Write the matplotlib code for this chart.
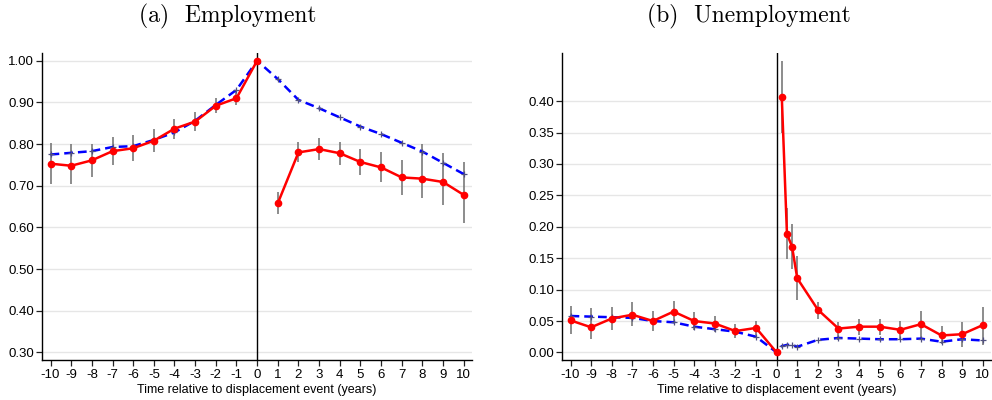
import numpy as np
import matplotlib
matplotlib.use("Agg")
from matplotlib import pyplot as plt

# --- dane (a) zatrudnienie ---
yrs = list(range(-10, 11))
emp_red = [0.753, 0.748, 0.761, 0.783, 0.790, 0.808, 0.837, 0.854, 0.892, 0.910, 1.000,
           0.658, 0.780, 0.788, 0.778, 0.757, 0.744, 0.720, 0.717, 0.709, 0.678]
emp_red_lo = [0.704, 0.704, 0.722, 0.750, 0.760, 0.780, 0.812, 0.832, 0.874, 0.894, 1.000,
              0.632, 0.756, 0.763, 0.750, 0.726, 0.710, 0.679, 0.670, 0.654, 0.610]
emp_red_hi = [0.802, 0.799, 0.800, 0.816, 0.821, 0.835, 0.861, 0.877, 0.910, 0.930, 1.000,
              0.684, 0.804, 0.814, 0.806, 0.789, 0.780, 0.762, 0.799, 0.778, 0.756]
emp_blue = [0.775, 0.779, 0.783, 0.793, 0.795, 0.810, 0.828, 0.856, 0.894, 0.930, 1.000,
            0.956, 0.906, 0.886, 0.864, 0.842, 0.824, 0.803, 0.782, 0.755, 0.728]

# --- dane (b) bezrobocie (kwartaly po zdarzeniu) ---
t_un = [-10, -9, -8, -7, -6, -5, -4, -3, -2, -1, 0, 0.25, 0.5, 0.75, 1,
        2, 3, 4, 5, 6, 7, 8, 9, 10]
un_red = [0.051, 0.040, 0.054, 0.060, 0.050, 0.065, 0.050, 0.046, 0.034, 0.039, 0.0,
          0.407, 0.189, 0.168, 0.118, 0.068, 0.038, 0.041, 0.041, 0.036, 0.045, 0.027, 0.029, 0.0435]
un_red_lo = [0.029, 0.022, 0.035, 0.042, 0.034, 0.047, 0.035, 0.032, 0.023, 0.028, 0.0,
             0.349, 0.148, 0.133, 0.083, 0.054, 0.020, 0.027, 0.027, 0.020, 0.020, 0.014, 0.009, 0.012]
un_red_hi = [0.074, 0.071, 0.073, 0.080, 0.066, 0.082, 0.064, 0.058, 0.046, 0.050, 0.0,
             0.464, 0.230, 0.204, 0.153, 0.081, 0.049, 0.054, 0.054, 0.050, 0.066, 0.042, 0.048, 0.073]
un_blue = [0.058, 0.057, 0.056, 0.055, 0.050, 0.048, 0.041, 0.037, 0.033, 0.025, 0.0,
           0.010, 0.012, 0.012, 0.009, 0.020, 0.023, 0.022, 0.021, 0.021, 0.022, 0.017, 0.021, 0.019]

x_ticks = list(range(-10, 11))
xlab = "Time relative to displacement event (years)"

plt.rcParams['font.family'] = ['Liberation Sans', 'DejaVu Sans']
plt.rcParams['axes.unicode_minus'] = False

fig = plt.figure(figsize=(9.92, 4.0), dpi=100)
ax1 = fig.add_axes([0.0426, 0.099, 0.4332, 0.769])
ax2 = fig.add_axes([0.5668, 0.099, 0.4322, 0.769])


def panel(ax, x, r, lo, hi, b, ylim, yticks):
    x = np.asarray(x, dtype=float)
    r = np.asarray(r, dtype=float)
    # czerwona linia przerwana zaraz po zdarzeniu (t=0)
    k = int(np.where(x == 0)[0][0]) + 1
    xr = np.concatenate([x[:k], [np.nan], x[k:]])
    yr = np.concatenate([r[:k], [np.nan], r[k:]])

    for yt in yticks:
        ax.axhline(yt, color='#e6e6e6', lw=1.0, zorder=0)
    ax.axvline(0, color='black', lw=1.0, zorder=1)
    ax.vlines(x, lo, hi, color='#6e6e6e', lw=1.1, zorder=2)
    ax.plot(x, b, color='#0000ff', lw=1.8, ls=(0, (3.5, 2.0)),
            marker='+', ms=4, mec='#505080', mew=0.9, zorder=3)
    ax.plot(xr, yr, color='#ff0000', lw=1.8, marker='o', ms=4.5,
            mec='#ff0000', mfc='#ff0000', zorder=4)
    ax.set_xlim(-10.4, 10.4)
    ax.set_ylim(*ylim)
    ax.set_xticks(x_ticks)
    ax.set_yticks(yticks)
    ax.set_yticklabels([f"{v:.2f}" for v in yticks])
    ax.set_xlabel(xlab, fontsize=9, labelpad=2)
    ax.tick_params(labelsize=9.5, length=4, width=0.9, pad=2, color='#222222')
    for s in ['top', 'right']:
        ax.spines[s].set_visible(False)
    for s in ['left', 'bottom']:
        ax.spines[s].set_linewidth(1.0)


panel(ax1, yrs, emp_red, emp_red_lo, emp_red_hi, emp_blue,
      (0.281, 1.019), [0.3, 0.4, 0.5, 0.6, 0.7, 0.8, 0.9, 1.0])
panel(ax2, t_un, un_red, un_red_lo, un_red_hi, un_blue,
      (-0.0127, 0.477), [0.0, 0.05, 0.1, 0.15, 0.2, 0.25, 0.3, 0.35, 0.4])

# tytuly paneli (podpisy w stylu LaTeX)
fig.text(0.230, 0.945, "(a)  Employment", fontsize=17, family='cmr10',
         ha='center', va='baseline')
fig.text(0.755, 0.945, "(b)  Unemployment", fontsize=17, family='cmr10',
         ha='center', va='baseline')

fig.savefig("out.png", dpi=100)
